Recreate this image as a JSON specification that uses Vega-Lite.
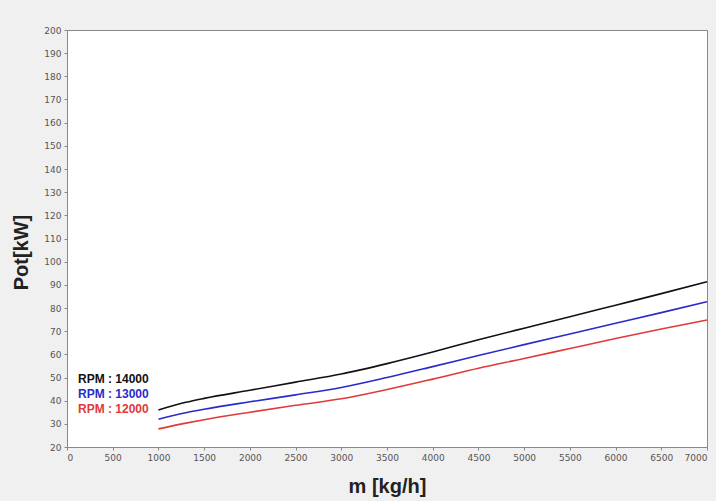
{
  "$schema": "https://vega.github.io/schema/vega-lite/v6.json",
  "width": 640,
  "height": 417,
  "autosize": {"type": "none"},
  "padding": {"left": 67, "top": 30, "right": 9, "bottom": 54},
  "background": "#f0f0f0",
  "config": {
    "view": {"fill": "white", "stroke": "#888888", "strokeWidth": 1},
    "font": "Liberation Sans"
  },
  "data": {
    "values": [
      {"m": 1000, "pot": 36.0, "rpm": "RPM : 14000"},
      {"m": 1300, "pot": 39.3, "rpm": "RPM : 14000"},
      {"m": 1500, "pot": 41.0, "rpm": "RPM : 14000"},
      {"m": 2000, "pot": 44.5, "rpm": "RPM : 14000"},
      {"m": 2500, "pot": 48.0, "rpm": "RPM : 14000"},
      {"m": 3000, "pot": 51.5, "rpm": "RPM : 14000"},
      {"m": 3500, "pot": 56.0, "rpm": "RPM : 14000"},
      {"m": 4000, "pot": 61.0, "rpm": "RPM : 14000"},
      {"m": 4500, "pot": 66.3, "rpm": "RPM : 14000"},
      {"m": 5000, "pot": 71.3, "rpm": "RPM : 14000"},
      {"m": 5500, "pot": 76.2, "rpm": "RPM : 14000"},
      {"m": 6000, "pot": 81.2, "rpm": "RPM : 14000"},
      {"m": 6500, "pot": 86.2, "rpm": "RPM : 14000"},
      {"m": 7000, "pot": 91.3, "rpm": "RPM : 14000"},
      {"m": 1000, "pot": 32.0, "rpm": "RPM : 13000"},
      {"m": 1300, "pot": 34.8, "rpm": "RPM : 13000"},
      {"m": 1500, "pot": 36.3, "rpm": "RPM : 13000"},
      {"m": 2000, "pot": 39.5, "rpm": "RPM : 13000"},
      {"m": 2500, "pot": 42.5, "rpm": "RPM : 13000"},
      {"m": 3000, "pot": 45.7, "rpm": "RPM : 13000"},
      {"m": 3500, "pot": 50.0, "rpm": "RPM : 13000"},
      {"m": 4000, "pot": 54.7, "rpm": "RPM : 13000"},
      {"m": 4500, "pot": 59.5, "rpm": "RPM : 13000"},
      {"m": 5000, "pot": 64.2, "rpm": "RPM : 13000"},
      {"m": 5500, "pot": 68.8, "rpm": "RPM : 13000"},
      {"m": 6000, "pot": 73.4, "rpm": "RPM : 13000"},
      {"m": 6500, "pot": 78.0, "rpm": "RPM : 13000"},
      {"m": 7000, "pot": 82.7, "rpm": "RPM : 13000"},
      {"m": 1000, "pot": 27.8, "rpm": "RPM : 12000"},
      {"m": 1300, "pot": 30.3, "rpm": "RPM : 12000"},
      {"m": 1500, "pot": 31.8, "rpm": "RPM : 12000"},
      {"m": 2000, "pot": 35.0, "rpm": "RPM : 12000"},
      {"m": 2500, "pot": 38.0, "rpm": "RPM : 12000"},
      {"m": 3000, "pot": 40.8, "rpm": "RPM : 12000"},
      {"m": 3500, "pot": 44.8, "rpm": "RPM : 12000"},
      {"m": 4000, "pot": 49.3, "rpm": "RPM : 12000"},
      {"m": 4500, "pot": 54.0, "rpm": "RPM : 12000"},
      {"m": 5000, "pot": 58.2, "rpm": "RPM : 12000"},
      {"m": 5500, "pot": 62.5, "rpm": "RPM : 12000"},
      {"m": 6000, "pot": 66.8, "rpm": "RPM : 12000"},
      {"m": 6500, "pot": 70.9, "rpm": "RPM : 12000"},
      {"m": 7000, "pot": 74.8, "rpm": "RPM : 12000"}
    ]
  },
  "mark": {"type": "line", "strokeWidth": 1.6, "interpolate": "monotone"},
  "encoding": {
    "x": {
      "field": "m",
      "type": "quantitative",
      "scale": {"domain": [0, 7000], "nice": false},
      "axis": {
        "title": "m [kg/h]",
        "titleFontSize": 20,
        "titleFontWeight": "bold",
        "titleColor": "#222222",
        "titlePadding": 14,
        "format": "d",
        "values": [0, 500, 1000, 1500, 2000, 2500, 3000, 3500, 4000, 4500, 5000, 5500, 6000, 6500, 7000],
        "labelFontSize": 9,
        "labelColor": "#555555",
        "labelFont": "DejaVu Sans",
        "labelPadding": 3,
        "tickColor": "#888888",
        "tickSize": 3,
        "domainColor": "#888888",
        "grid": false
      }
    },
    "y": {
      "field": "pot",
      "type": "quantitative",
      "scale": {"domain": [20, 200], "nice": false, "zero": false},
      "axis": {
        "title": "Pot[kW]",
        "titleFontSize": 20,
        "titleFontWeight": "bold",
        "titleColor": "#222222",
        "titlePadding": 12,
        "titleY": 222,
        "values": [20, 30, 40, 50, 60, 70, 80, 90, 100, 110, 120, 130, 140, 150, 160, 170, 180, 190, 200],
        "labelFontSize": 9,
        "labelColor": "#555555",
        "labelFont": "DejaVu Sans",
        "labelPadding": 3,
        "tickColor": "#888888",
        "tickSize": 3,
        "domainColor": "#888888",
        "grid": false
      }
    },
    "color": {
      "field": "rpm",
      "type": "nominal",
      "scale": {
        "domain": ["RPM : 14000", "RPM : 13000", "RPM : 12000"],
        "range": ["#111111", "#2a2acc", "#e03a3a"]
      },
      "legend": {
        "title": null,
        "orient": "none",
        "legendX": -1,
        "legendY": 343,
        "symbolSize": 0,
        "symbolOpacity": 0,
        "symbolStrokeWidth": 0,
        "labelOffset": 0,
        "labelFontSize": 12,
        "labelFontWeight": "bold",
        "labelFont": "Liberation Sans",
        "rowPadding": 3,
        "labelColor": {"expr": "datum.label == 'RPM : 14000' ? '#111111' : datum.label == 'RPM : 13000' ? '#2a2acc' : '#e03a3a'"}
      }
    }
  }
}
